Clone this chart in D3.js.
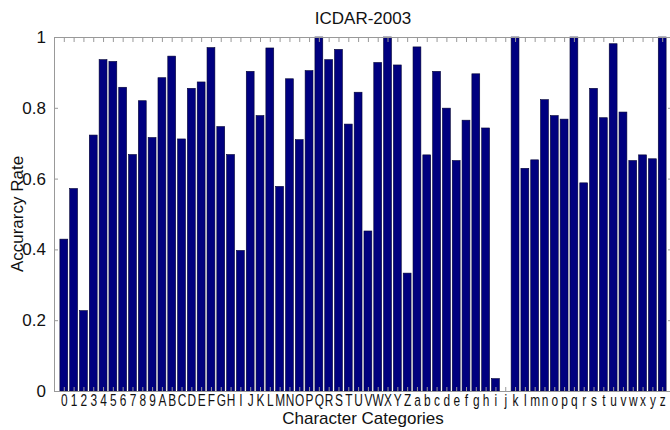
<!DOCTYPE html>
<html>
<head>
<meta charset="utf-8">
<script src="https://cdn.jsdelivr.net/npm/d3@7"></script>
<style>
  body { margin: 0; background: #fff; }
  text { font-family: "Liberation Sans", Arial, sans-serif; fill: #111; }
</style>
</head>
<body>
<script>
// categories and accuracy values
var categories = "0123456789ABCDEFGHIJKLMNOPQRSTUVWXYZabcdefghijklmnopqrstuvwxyz".split("");
var digitValues = [0.429, 0.572, 0.227, 0.723, 0.936, 0.931, 0.858, 0.668, 0.820, 0.716];
var upperValues = [0.885, 0.946, 0.712, 0.855, 0.873, 0.970, 0.747, 0.668, 0.397, 0.903,
                   0.778, 0.969, 0.578, 0.882, 0.710, 0.905, 1.0, 0.936, 0.965, 0.754,
                   0.844, 0.452, 0.928, 1.0, 0.921, 0.333];
var lowerValues = [0.972, 0.667, 0.903, 0.799, 0.651, 0.765, 0.896, 0.743, 0.035, 0.0,
                   1.0, 0.629, 0.653, 0.823, 0.778, 0.768, 1.0, 0.588, 0.855, 0.772,
                   0.981, 0.788, 0.651, 0.667, 0.656, 1.0];
var yTicks = [0, 0.2, 0.4, 0.6, 0.8, 1];

var values = digitValues.concat(upperValues, lowerValues);
var data = categories.map(function(c, i) { return {id: c, pos: i + 1, v: values[i]}; });

var W = 670, H = 430;
var margin = {top: 37, left: 54};
var plotW = 618, plotH = 354;

var svg = d3.select("body").append("svg")
    .attr("width", W)
    .attr("height", H);

var g = svg.append("g")
    .attr("transform", "translate(" + margin.left + "," + margin.top + ")");

// matlab style: bar i sits at x=i, limits 0..n+1
var x = d3.scaleLinear().domain([0, categories.length + 1]).range([0, plotW]);
var y = d3.scaleLinear().domain([0, 1]).range([plotH, 0]);
var barW = (x(1) - x(0)) * 0.8;

g.selectAll("rect.bar")
    .data(data)
    .enter().append("rect")
    .attr("class", "bar")
    .attr("x", function(d) { return x(d.pos) - barW / 2; })
    .attr("width", barW)
    .attr("y", function(d) { return y(d.v); })
    .attr("height", function(d) { return plotH - y(d.v); })
    .style("fill", "#00007f")
    .style("stroke", "#000033")
    .style("stroke-width", 0.6);

var axisColor = "#999";

// bottom axis: inward ticks, char labels (squeezed like the original)
var xAxis = d3.axisBottom(x)
    .tickValues(data.map(function(d) { return d.pos; }))
    .tickFormat(function(p) { return categories[p - 1]; })
    .tickSizeInner(-4).tickSizeOuter(0).tickPadding(3);

var gx = g.append("g")
    .attr("transform", "translate(0," + plotH + ")")
    .call(xAxis);
gx.select(".domain").attr("stroke", axisColor);
gx.selectAll(".tick line").attr("stroke", axisColor);
gx.selectAll(".tick text").style("font-size", "17px").attr("fill", "#111")
    .attr("font-family", "Liberation Sans, Arial, sans-serif")
    .attr("transform", "scale(0.7,1)");

// top axis: ticks only
var gt = g.append("g")
    .call(d3.axisTop(x).tickValues(data.map(function(d) { return d.pos; }))
        .tickFormat("").tickSizeInner(-5).tickSizeOuter(0));
gt.select(".domain").attr("stroke", axisColor);
gt.selectAll(".tick line").attr("stroke", axisColor);

// left axis
var gy = g.append("g")
    .call(d3.axisLeft(y).tickValues(yTicks).tickFormat(d3.format("~g"))
        .tickSizeInner(-4).tickSizeOuter(0).tickPadding(8));
gy.select(".domain").attr("stroke", axisColor);
gy.selectAll(".tick line").attr("stroke", axisColor);
gy.selectAll(".tick text").style("font-size", "17px").attr("fill", "#111")
    .attr("font-family", "Liberation Sans, Arial, sans-serif");

// right axis (mostly off screen)
var gr = g.append("g")
    .attr("transform", "translate(" + plotW + ",0)")
    .call(d3.axisRight(y).tickValues(yTicks).tickFormat("").tickSizeInner(-4).tickSizeOuter(0));
gr.select(".domain").attr("stroke", axisColor);
gr.selectAll(".tick line").attr("stroke", axisColor);

// title and labels
svg.append("text")
    .attr("x", margin.left + plotW / 2)
    .attr("y", 24)
    .attr("text-anchor", "middle")
    .style("font-size", "17px")
    .text("ICDAR-2003");

svg.append("text")
    .attr("x", margin.left + plotW / 2)
    .attr("y", 424)
    .attr("text-anchor", "middle")
    .style("font-size", "17px")
    .text("Character Categories");

svg.append("text")
    .attr("transform", "translate(23," + (margin.top + plotH / 2) + ") rotate(-90)")
    .attr("text-anchor", "middle")
    .style("font-size", "17px")
    .text("Accurarcy Rate");
</script>
</body>
</html>
